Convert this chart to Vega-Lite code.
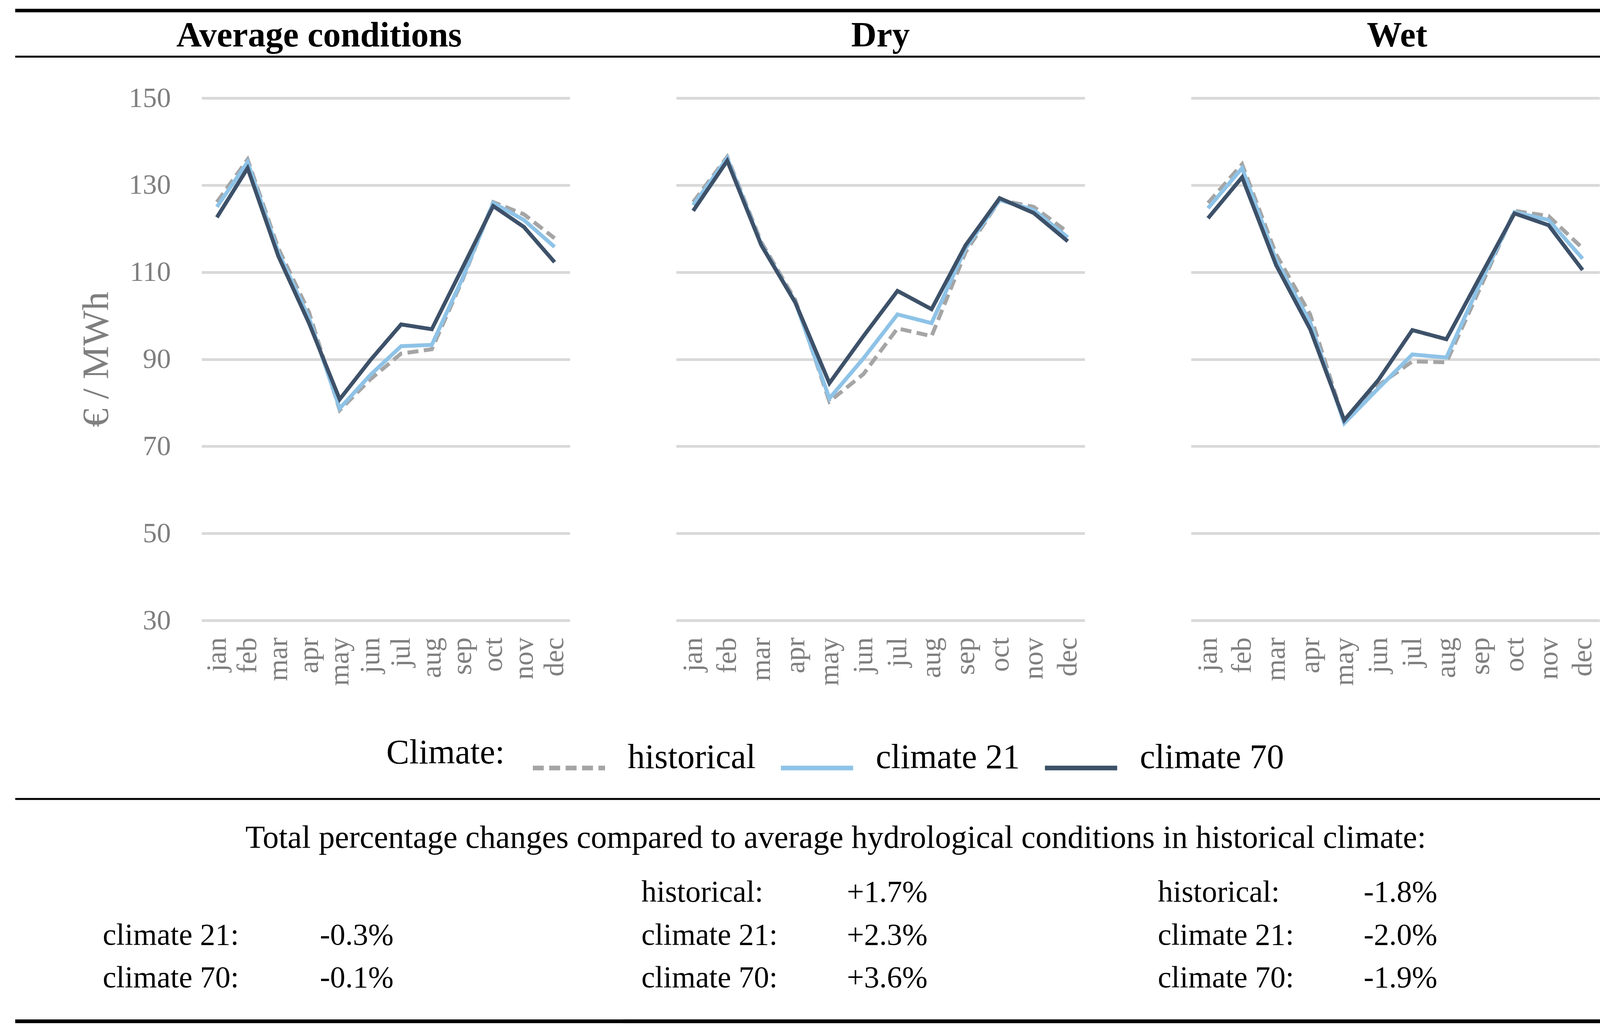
{
  "$schema": "https://vega.github.io/schema/vega-lite/v6.json",
  "background": "white",
  "padding": {"left": 34, "top": 22, "right": 22, "bottom": 21},
  "spacing": 67,
  "datasets": {
    "prices": [
      {"panel": "Average conditions", "climate": "historical", "month": "jan", "value": 126.1},
      {"panel": "Average conditions", "climate": "historical", "month": "feb", "value": 135.9},
      {"panel": "Average conditions", "climate": "historical", "month": "mar", "value": 115.5},
      {"panel": "Average conditions", "climate": "historical", "month": "apr", "value": 100.8},
      {"panel": "Average conditions", "climate": "historical", "month": "may", "value": 78.3},
      {"panel": "Average conditions", "climate": "historical", "month": "jun", "value": 85.4},
      {"panel": "Average conditions", "climate": "historical", "month": "jul", "value": 91.3},
      {"panel": "Average conditions", "climate": "historical", "month": "aug", "value": 92.3},
      {"panel": "Average conditions", "climate": "historical", "month": "sep", "value": 108.2},
      {"panel": "Average conditions", "climate": "historical", "month": "oct", "value": 126.1},
      {"panel": "Average conditions", "climate": "historical", "month": "nov", "value": 123.3},
      {"panel": "Average conditions", "climate": "historical", "month": "dec", "value": 117.8},
      {"panel": "Average conditions", "climate": "climate 21", "month": "jan", "value": 125.0},
      {"panel": "Average conditions", "climate": "climate 21", "month": "feb", "value": 135.3},
      {"panel": "Average conditions", "climate": "climate 21", "month": "mar", "value": 114.6},
      {"panel": "Average conditions", "climate": "climate 21", "month": "apr", "value": 99.5},
      {"panel": "Average conditions", "climate": "climate 21", "month": "may", "value": 78.7},
      {"panel": "Average conditions", "climate": "climate 21", "month": "jun", "value": 86.4},
      {"panel": "Average conditions", "climate": "climate 21", "month": "jul", "value": 93.0},
      {"panel": "Average conditions", "climate": "climate 21", "month": "aug", "value": 93.3},
      {"panel": "Average conditions", "climate": "climate 21", "month": "sep", "value": 108.6},
      {"panel": "Average conditions", "climate": "climate 21", "month": "oct", "value": 125.9},
      {"panel": "Average conditions", "climate": "climate 21", "month": "nov", "value": 122.0},
      {"panel": "Average conditions", "climate": "climate 21", "month": "dec", "value": 115.8},
      {"panel": "Average conditions", "climate": "climate 70", "month": "jan", "value": 122.6},
      {"panel": "Average conditions", "climate": "climate 70", "month": "feb", "value": 133.9},
      {"panel": "Average conditions", "climate": "climate 70", "month": "mar", "value": 113.7},
      {"panel": "Average conditions", "climate": "climate 70", "month": "apr", "value": 98.3},
      {"panel": "Average conditions", "climate": "climate 70", "month": "may", "value": 80.8},
      {"panel": "Average conditions", "climate": "climate 70", "month": "jun", "value": 89.8},
      {"panel": "Average conditions", "climate": "climate 70", "month": "jul", "value": 98.0},
      {"panel": "Average conditions", "climate": "climate 70", "month": "aug", "value": 96.9},
      {"panel": "Average conditions", "climate": "climate 70", "month": "sep", "value": 111.0},
      {"panel": "Average conditions", "climate": "climate 70", "month": "oct", "value": 125.2},
      {"panel": "Average conditions", "climate": "climate 70", "month": "nov", "value": 120.4},
      {"panel": "Average conditions", "climate": "climate 70", "month": "dec", "value": 112.3},
      {"panel": "Dry", "climate": "historical", "month": "jan", "value": 126.1},
      {"panel": "Dry", "climate": "historical", "month": "feb", "value": 136.5},
      {"panel": "Dry", "climate": "historical", "month": "mar", "value": 116.9},
      {"panel": "Dry", "climate": "historical", "month": "apr", "value": 103.6},
      {"panel": "Dry", "climate": "historical", "month": "may", "value": 80.3},
      {"panel": "Dry", "climate": "historical", "month": "jun", "value": 86.6},
      {"panel": "Dry", "climate": "historical", "month": "jul", "value": 97.1},
      {"panel": "Dry", "climate": "historical", "month": "aug", "value": 95.3},
      {"panel": "Dry", "climate": "historical", "month": "sep", "value": 114.6},
      {"panel": "Dry", "climate": "historical", "month": "oct", "value": 126.6},
      {"panel": "Dry", "climate": "historical", "month": "nov", "value": 125.0},
      {"panel": "Dry", "climate": "historical", "month": "dec", "value": 119.2},
      {"panel": "Dry", "climate": "climate 21", "month": "jan", "value": 125.4},
      {"panel": "Dry", "climate": "climate 21", "month": "feb", "value": 136.2},
      {"panel": "Dry", "climate": "climate 21", "month": "mar", "value": 116.4},
      {"panel": "Dry", "climate": "climate 21", "month": "apr", "value": 103.1},
      {"panel": "Dry", "climate": "climate 21", "month": "may", "value": 81.0},
      {"panel": "Dry", "climate": "climate 21", "month": "jun", "value": 90.2},
      {"panel": "Dry", "climate": "climate 21", "month": "jul", "value": 100.3},
      {"panel": "Dry", "climate": "climate 21", "month": "aug", "value": 98.3},
      {"panel": "Dry", "climate": "climate 21", "month": "sep", "value": 115.5},
      {"panel": "Dry", "climate": "climate 21", "month": "oct", "value": 126.6},
      {"panel": "Dry", "climate": "climate 21", "month": "nov", "value": 124.3},
      {"panel": "Dry", "climate": "climate 21", "month": "dec", "value": 118.0},
      {"panel": "Dry", "climate": "climate 70", "month": "jan", "value": 124.1},
      {"panel": "Dry", "climate": "climate 70", "month": "feb", "value": 135.6},
      {"panel": "Dry", "climate": "climate 70", "month": "mar", "value": 116.2},
      {"panel": "Dry", "climate": "climate 70", "month": "apr", "value": 103.0},
      {"panel": "Dry", "climate": "climate 70", "month": "may", "value": 84.5},
      {"panel": "Dry", "climate": "climate 70", "month": "jun", "value": 95.3},
      {"panel": "Dry", "climate": "climate 70", "month": "jul", "value": 105.7},
      {"panel": "Dry", "climate": "climate 70", "month": "aug", "value": 101.5},
      {"panel": "Dry", "climate": "climate 70", "month": "sep", "value": 116.2},
      {"panel": "Dry", "climate": "climate 70", "month": "oct", "value": 127.0},
      {"panel": "Dry", "climate": "climate 70", "month": "nov", "value": 123.6},
      {"panel": "Dry", "climate": "climate 70", "month": "dec", "value": 117.1},
      {"panel": "Wet", "climate": "historical", "month": "jan", "value": 125.9},
      {"panel": "Wet", "climate": "historical", "month": "feb", "value": 134.8},
      {"panel": "Wet", "climate": "historical", "month": "mar", "value": 114.1},
      {"panel": "Wet", "climate": "historical", "month": "apr", "value": 100.3},
      {"panel": "Wet", "climate": "historical", "month": "may", "value": 75.5},
      {"panel": "Wet", "climate": "historical", "month": "jun", "value": 84.0},
      {"panel": "Wet", "climate": "historical", "month": "jul", "value": 89.5},
      {"panel": "Wet", "climate": "historical", "month": "aug", "value": 89.3},
      {"panel": "Wet", "climate": "historical", "month": "sep", "value": 106.5},
      {"panel": "Wet", "climate": "historical", "month": "oct", "value": 124.1},
      {"panel": "Wet", "climate": "historical", "month": "nov", "value": 122.9},
      {"panel": "Wet", "climate": "historical", "month": "dec", "value": 115.5},
      {"panel": "Wet", "climate": "climate 21", "month": "jan", "value": 124.7},
      {"panel": "Wet", "climate": "climate 21", "month": "feb", "value": 133.9},
      {"panel": "Wet", "climate": "climate 21", "month": "mar", "value": 112.8},
      {"panel": "Wet", "climate": "climate 21", "month": "apr", "value": 98.5},
      {"panel": "Wet", "climate": "climate 21", "month": "may", "value": 75.3},
      {"panel": "Wet", "climate": "climate 21", "month": "jun", "value": 83.3},
      {"panel": "Wet", "climate": "climate 21", "month": "jul", "value": 91.1},
      {"panel": "Wet", "climate": "climate 21", "month": "aug", "value": 90.4},
      {"panel": "Wet", "climate": "climate 21", "month": "sep", "value": 107.6},
      {"panel": "Wet", "climate": "climate 21", "month": "oct", "value": 123.8},
      {"panel": "Wet", "climate": "climate 21", "month": "nov", "value": 122.0},
      {"panel": "Wet", "climate": "climate 21", "month": "dec", "value": 113.1},
      {"panel": "Wet", "climate": "climate 70", "month": "jan", "value": 122.4},
      {"panel": "Wet", "climate": "climate 70", "month": "feb", "value": 131.8},
      {"panel": "Wet", "climate": "climate 70", "month": "mar", "value": 111.6},
      {"panel": "Wet", "climate": "climate 70", "month": "apr", "value": 96.9},
      {"panel": "Wet", "climate": "climate 70", "month": "may", "value": 76.0},
      {"panel": "Wet", "climate": "climate 70", "month": "jun", "value": 85.2},
      {"panel": "Wet", "climate": "climate 70", "month": "jul", "value": 96.7},
      {"panel": "Wet", "climate": "climate 70", "month": "aug", "value": 94.6},
      {"panel": "Wet", "climate": "climate 70", "month": "sep", "value": 109.1},
      {"panel": "Wet", "climate": "climate 70", "month": "oct", "value": 123.5},
      {"panel": "Wet", "climate": "climate 70", "month": "nov", "value": 120.8},
      {"panel": "Wet", "climate": "climate 70", "month": "dec", "value": 110.5}
    ],
    "changes": [
      {"panel": "Dry", "climate": "historical", "label": "historical:", "change": "+1.7%"},
      {"panel": "Wet", "climate": "historical", "label": "historical:", "change": "-1.8%"},
      {"panel": "Average conditions", "climate": "climate 21", "label": "climate 21:", "change": "-0.3%"},
      {"panel": "Dry", "climate": "climate 21", "label": "climate 21:", "change": "+2.3%"},
      {"panel": "Wet", "climate": "climate 21", "label": "climate 21:", "change": "-2.0%"},
      {"panel": "Average conditions", "climate": "climate 70", "label": "climate 70:", "change": "-0.1%"},
      {"panel": "Dry", "climate": "climate 70", "label": "climate 70:", "change": "+3.6%"},
      {"panel": "Wet", "climate": "climate 70", "label": "climate 70:", "change": "-1.9%"}
    ]
  },
  "vconcat": [
    {
      "spacing": 0,
      "bounds": "flush",
      "hconcat": [
        {
          "width": 1556, "height": 118,
          "data": {"values": [{"panel": "Average conditions"}]},
          "layer": [
            {"mark": {"type": "rule", "color": "black", "strokeWidth": 9}, "encoding": {"y": {"datum": 1, "type": "quantitative", "scale": {"domain": [0, 1]}, "axis": null}}},
            {"mark": {"type": "rule", "color": "black", "strokeWidth": 5}, "encoding": {"y": {"datum": 0, "type": "quantitative"}}},
            {"mark": {"type": "text", "font": "Liberation Serif", "fontSize": 90, "fontWeight": "bold", "color": "black", "dy": 6}, "encoding": {"text": {"field": "panel"}}}
          ]
        },
        {
          "width": 1318, "height": 118,
          "data": {"values": [{"panel": "Dry"}]},
          "layer": [
            {"mark": {"type": "rule", "color": "black", "strokeWidth": 9}, "encoding": {"y": {"datum": 1, "type": "quantitative", "scale": {"domain": [0, 1]}, "axis": null}}},
            {"mark": {"type": "rule", "color": "black", "strokeWidth": 5}, "encoding": {"y": {"datum": 0, "type": "quantitative"}}},
            {"mark": {"type": "text", "font": "Liberation Serif", "fontSize": 90, "fontWeight": "bold", "color": "black", "dy": 6}, "encoding": {"text": {"field": "panel"}}}
          ]
        },
        {
          "width": 1327, "height": 118,
          "data": {"values": [{"panel": "Wet"}]},
          "layer": [
            {"mark": {"type": "rule", "color": "black", "strokeWidth": 9}, "encoding": {"y": {"datum": 1, "type": "quantitative", "scale": {"domain": [0, 1]}, "axis": null}}},
            {"mark": {"type": "rule", "color": "black", "strokeWidth": 5}, "encoding": {"y": {"datum": 0, "type": "quantitative"}}},
            {"mark": {"type": "text", "font": "Liberation Serif", "fontSize": 90, "fontWeight": "bold", "color": "black", "dy": 6}, "encoding": {"text": {"field": "panel"}}}
          ]
        }
      ]
    },
    {
      "spacing": 272,
      "bounds": "flush",
      "hconcat": [
        {"width": 205, "height": 1724, "data": {"values": []}, "mark": "point"},
        {
          "width": 943, "height": 1337,
          "data": {"name": "prices"},
          "transform": [{"filter": "datum.panel === 'Average conditions'"}],
          "mark": {"type": "line", "strokeWidth": 10},
          "encoding": {
            "x": {"field": "month", "type": "ordinal", "sort": ["jan","feb","mar","apr","may","jun","jul","aug","sep","oct","nov","dec"], "axis": {"title": null}},
            "y": {"field": "value", "type": "quantitative", "scale": {"domain": [30, 150], "nice": false, "zero": false}, "axis": {"values": [30, 50, 70, 90, 110, 130, 150], "title": "€ / MWh"}},
            "color": {"field": "climate", "type": "nominal", "title": "Climate:", "scale": {"domain": ["historical", "climate 21", "climate 70"], "range": ["#A5A5A5", "#8EC3E7", "#3D5169"]}},
            "strokeDash": {"field": "climate", "type": "nominal", "title": "Climate:", "scale": {"domain": ["historical", "climate 21", "climate 70"], "range": [[28, 14], [1, 0], [1, 0]]}}
          }
        },
        {
          "width": 1046, "height": 1337,
          "data": {"name": "prices"},
          "transform": [{"filter": "datum.panel === 'Dry'"}],
          "mark": {"type": "line", "strokeWidth": 10},
          "encoding": {
            "x": {"field": "month", "type": "ordinal", "sort": ["jan","feb","mar","apr","may","jun","jul","aug","sep","oct","nov","dec"], "axis": {"title": null}},
            "y": {"field": "value", "type": "quantitative", "scale": {"domain": [30, 150], "nice": false, "zero": false}, "axis": {"values": [30, 50, 70, 90, 110, 130, 150], "labels": false, "title": null}},
            "color": {"field": "climate", "type": "nominal", "title": "Climate:", "scale": {"domain": ["historical", "climate 21", "climate 70"], "range": ["#A5A5A5", "#8EC3E7", "#3D5169"]}},
            "strokeDash": {"field": "climate", "type": "nominal", "title": "Climate:", "scale": {"domain": ["historical", "climate 21", "climate 70"], "range": [[28, 14], [1, 0], [1, 0]]}}
          }
        },
        {
          "width": 1046, "height": 1337,
          "data": {"name": "prices"},
          "transform": [{"filter": "datum.panel === 'Wet'"}],
          "mark": {"type": "line", "strokeWidth": 10},
          "encoding": {
            "x": {"field": "month", "type": "ordinal", "sort": ["jan","feb","mar","apr","may","jun","jul","aug","sep","oct","nov","dec"], "axis": {"title": null}},
            "y": {"field": "value", "type": "quantitative", "scale": {"domain": [30, 150], "nice": false, "zero": false}, "axis": {"values": [30, 50, 70, 90, 110, 130, 150], "labels": false, "title": null}},
            "color": {"field": "climate", "type": "nominal", "title": "Climate:", "scale": {"domain": ["historical", "climate 21", "climate 70"], "range": ["#A5A5A5", "#8EC3E7", "#3D5169"]}},
            "strokeDash": {"field": "climate", "type": "nominal", "title": "Climate:", "scale": {"domain": ["historical", "climate 21", "climate 70"], "range": [[28, 14], [1, 0], [1, 0]]}}
          }
        }
      ]
    },
    {
      "spacing": 0,
      "vconcat": [
        {
          "width": 4201, "height": 200,
          "data": {"values": [{"note": "Total percentage changes compared to average hydrological conditions in historical climate:"}]},
          "layer": [
            {"mark": {"type": "rule", "color": "black", "strokeWidth": 5}, "encoding": {"y": {"datum": 1, "type": "quantitative", "scale": {"domain": [0, 1]}, "axis": null}}},
            {"mark": {"type": "text", "font": "Liberation Serif", "fontSize": 82, "color": "black"}, "encoding": {"text": {"field": "note"}}}
          ]
        },
        {
          "spacing": 0,
          "bounds": "flush",
          "hconcat": [
            {
              "width": 1556, "height": 369,
              "data": {"name": "changes"},
              "transform": [{"filter": "datum.panel === 'Average conditions'"}],
              "layer": [
                {"mark": {"type": "rule", "color": "black", "strokeWidth": 9}, "encoding": {"y": {"datum": 0, "type": "quantitative", "scale": {"domain": [0, 1]}, "axis": null}}},
                {"mark": {"type": "text", "align": "left", "baseline": "alphabetic", "font": "Liberation Serif", "fontSize": 78, "color": "black"},
                 "encoding": {
                   "x": {"datum": "label", "type": "nominal", "scale": {"type": "point", "domain": ["label", "value"], "range": [224, 780], "padding": 0}, "axis": null},
                   "y": {"field": "climate", "type": "nominal", "scale": {"type": "point", "domain": ["historical", "climate 21", "climate 70"], "range": [63, 282], "padding": 0}, "axis": null},
                   "text": {"field": "label"}}},
                {"mark": {"type": "text", "align": "left", "baseline": "alphabetic", "font": "Liberation Serif", "fontSize": 78, "color": "black"},
                 "encoding": {
                   "x": {"datum": "value", "type": "nominal"},
                   "y": {"field": "climate", "type": "nominal", "scale": {"type": "point", "domain": ["historical", "climate 21", "climate 70"], "range": [63, 282], "padding": 0}, "axis": null},
                   "text": {"field": "change"}}}
              ],
              "resolve": {"scale": {"y": "independent"}}
            },
            {
              "width": 1318, "height": 369,
              "data": {"name": "changes"},
              "transform": [{"filter": "datum.panel === 'Dry'"}],
              "layer": [
                {"mark": {"type": "rule", "color": "black", "strokeWidth": 9}, "encoding": {"y": {"datum": 0, "type": "quantitative", "scale": {"domain": [0, 1]}, "axis": null}}},
                {"mark": {"type": "text", "align": "left", "baseline": "alphabetic", "font": "Liberation Serif", "fontSize": 78, "color": "black"},
                 "encoding": {
                   "x": {"datum": "label", "type": "nominal", "scale": {"type": "point", "domain": ["label", "value"], "range": [47, 573], "padding": 0}, "axis": null},
                   "y": {"field": "climate", "type": "nominal", "scale": {"type": "point", "domain": ["historical", "climate 21", "climate 70"], "range": [63, 282], "padding": 0}, "axis": null},
                   "text": {"field": "label"}}},
                {"mark": {"type": "text", "align": "left", "baseline": "alphabetic", "font": "Liberation Serif", "fontSize": 78, "color": "black"},
                 "encoding": {
                   "x": {"datum": "value", "type": "nominal"},
                   "y": {"field": "climate", "type": "nominal", "scale": {"type": "point", "domain": ["historical", "climate 21", "climate 70"], "range": [63, 282], "padding": 0}, "axis": null},
                   "text": {"field": "change"}}}
              ],
              "resolve": {"scale": {"y": "independent"}}
            },
            {
              "width": 1327, "height": 369,
              "data": {"name": "changes"},
              "transform": [{"filter": "datum.panel === 'Wet'"}],
              "layer": [
                {"mark": {"type": "rule", "color": "black", "strokeWidth": 9}, "encoding": {"y": {"datum": 0, "type": "quantitative", "scale": {"domain": [0, 1]}, "axis": null}}},
                {"mark": {"type": "text", "align": "left", "baseline": "alphabetic", "font": "Liberation Serif", "fontSize": 78, "color": "black"},
                 "encoding": {
                   "x": {"datum": "label", "type": "nominal", "scale": {"type": "point", "domain": ["label", "value"], "range": [51, 578], "padding": 0}, "axis": null},
                   "y": {"field": "climate", "type": "nominal", "scale": {"type": "point", "domain": ["historical", "climate 21", "climate 70"], "range": [63, 282], "padding": 0}, "axis": null},
                   "text": {"field": "label"}}},
                {"mark": {"type": "text", "align": "left", "baseline": "alphabetic", "font": "Liberation Serif", "fontSize": 78, "color": "black"},
                 "encoding": {
                   "x": {"datum": "value", "type": "nominal"},
                   "y": {"field": "climate", "type": "nominal", "scale": {"type": "point", "domain": ["historical", "climate 21", "climate 70"], "range": [63, 282], "padding": 0}, "axis": null},
                   "text": {"field": "change"}}}
              ],
              "resolve": {"scale": {"y": "independent"}}
            }
          ]
        }
      ]
    }
  ],
  "config": {
    "view": {"stroke": null},
    "font": "Liberation Serif",
    "axis": {"labelFont": "Liberation Serif", "titleFont": "Liberation Serif", "labelColor": "#7F7F7F", "titleColor": "#7F7F7F", "ticks": false, "tickSize": 0, "domain": false, "labelFontSize": 72},
    "axisY": {"grid": true, "gridColor": "#D9D9D9", "gridWidth": 7, "labelPadding": 79, "titleFontSize": 96, "titleFontWeight": "normal", "titlePadding": 33},
    "axisX": {"grid": false, "labelAngle": -90, "labelPadding": 43, "labelOverlap": false},
    "legend": {
      "orient": "none", "legendX": 950, "legendY": 1840, "direction": "horizontal", "columns": 3,
      "titleOrient": "left", "titleFont": "Liberation Serif", "titleFontSize": 88, "titleFontWeight": "normal", "titleColor": "black", "titlePadding": 65, "titleBaseline": "middle", "titleAnchor": "middle", "titleLimit": 2000,
      "labelFont": "Liberation Serif", "labelFontSize": 88, "labelColor": "black", "labelOffset": 52, "columnPadding": 40, "labelLimit": 2000, "labelBaseline": "alphabetic",
      "symbolType": "stroke", "symbolSize": 34225, "symbolStrokeWidth": 12
    }
  }
}
